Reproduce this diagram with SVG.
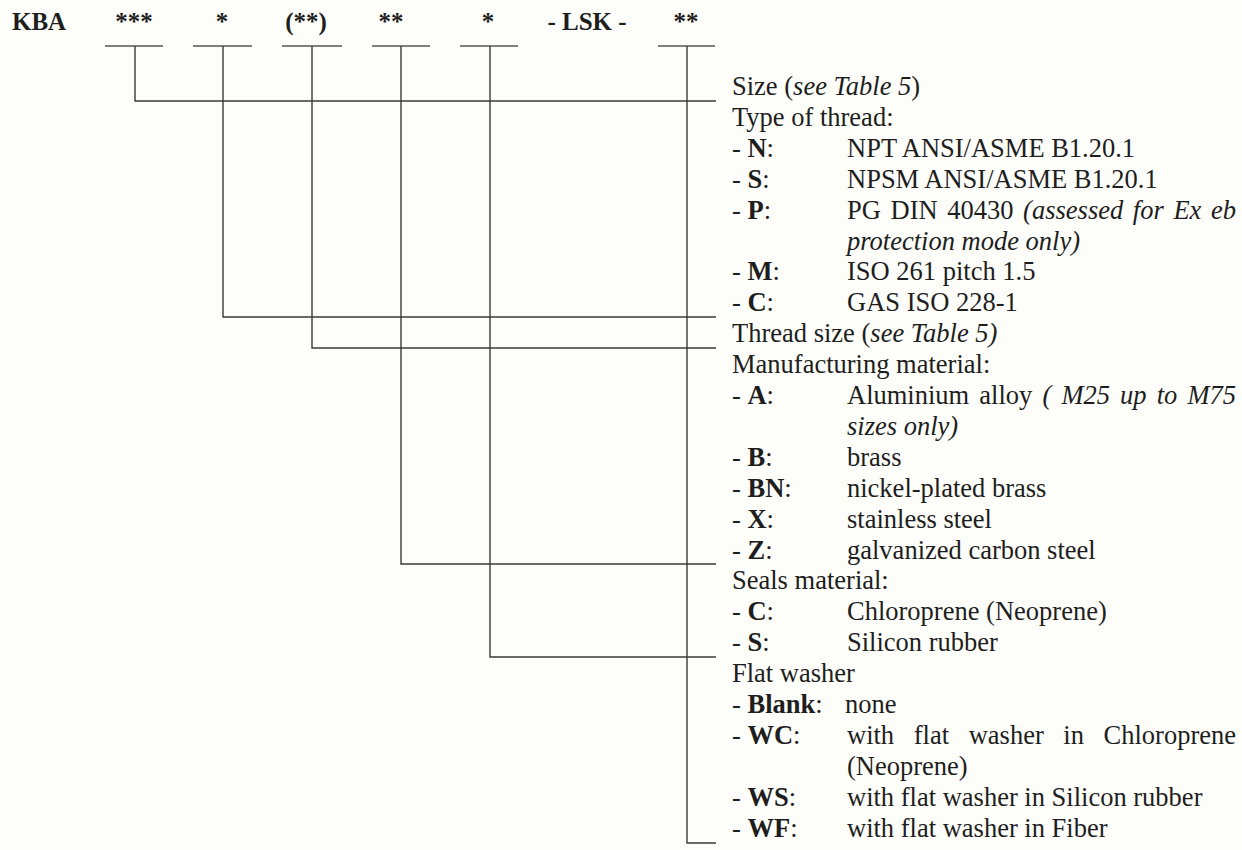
<svg xmlns="http://www.w3.org/2000/svg" width="1242" height="850" viewBox="0 0 1242 850">
<style>
text{font-family:"Liberation Serif","Times New Roman",serif;fill:#1e1e1e;font-size:26.5px}
.h{font-weight:bold;font-size:25px}
.b{font-weight:bold}
.i{font-style:italic}
.ln{stroke:#3a3a3a;stroke-width:1.4;fill:none}
.tick{stroke:#555;stroke-width:1.4}
</style>
<rect width="1242" height="850" fill="#fdfdf9"/>
<g id="header">
<g id="f-kba"><text class="h" x="12" y="30">KBA</text></g>
<g id="f-size"><text class="h" x="134" y="30" text-anchor="middle">***</text><line class="tick" x1="105" y1="46" x2="163" y2="46"/></g>
<g id="f-thread"><text class="h" x="222" y="30" text-anchor="middle">*</text><line class="tick" x1="193" y1="46" x2="252" y2="46"/></g>
<g id="f-threadsize"><text class="h" x="306" y="30" text-anchor="middle">(**)</text><line class="tick" x1="282" y1="46" x2="342" y2="46"/></g>
<g id="f-material"><text class="h" x="391" y="30" text-anchor="middle">**</text><line class="tick" x1="372" y1="46" x2="430" y2="46"/></g>
<g id="f-seals"><text class="h" x="488" y="30" text-anchor="middle">*</text><line class="tick" x1="460" y1="46" x2="518" y2="46"/></g>
<g id="f-lsk"><text class="h" x="587" y="30" text-anchor="middle">-  LSK  -</text></g>
<g id="f-washer"><text class="h" x="686" y="30" text-anchor="middle">**</text><line class="tick" x1="658" y1="46" x2="715" y2="46"/></g>
</g>
<g id="connectors">
<polyline class="ln" points="135,46 135,101 716,101"/>
<polyline class="ln" points="223,46 223,317 716,317"/>
<polyline class="ln" points="312,46 312,348 716,348"/>
<polyline class="ln" points="401,46 401,564 716,564"/>
<polyline class="ln" points="490,46 490,657 716,657"/>
<polyline class="ln" points="687,46 687,843 716,843"/>
</g>
<g id="n-size">
<text x="732" y="95">Size (<tspan class="i">see Table 5</tspan>)</text>
</g>
<g id="n-thread">
<text x="732" y="125.9">Type of thread:</text>
<text x="732" y="156.8">- <tspan class="b">N</tspan>:</text><text x="847" y="156.8">NPT ANSI/ASME B1.20.1</text>
<text x="732" y="187.7">- <tspan class="b">S</tspan>:</text><text x="847" y="187.7">NPSM ANSI/ASME B1.20.1</text>
<text x="732" y="218.6">- <tspan class="b">P</tspan>:</text><text x="847" y="218.6" word-spacing="3">PG DIN 40430 <tspan class="i">(assessed for Ex eb</tspan></text>
<text class="i" x="847" y="249.5">protection mode only)</text>
<text x="732" y="280.4">- <tspan class="b">M</tspan>:</text><text x="847" y="280.4">ISO 261 pitch 1.5</text>
<text x="732" y="311.3">- <tspan class="b">C</tspan>:</text><text x="847" y="311.3">GAS ISO 228-1</text>
</g>
<g id="n-threadsize">
<text x="732" y="342.2">Thread size (<tspan class="i">see Table 5)</tspan></text>
</g>
<g id="n-material">
<text x="732" y="373.1">Manufacturing material:</text>
<text x="732" y="404">- <tspan class="b">A</tspan>:</text><text x="847" y="404" word-spacing="3.5">Aluminium alloy <tspan class="i">( M25 up to M75</tspan></text>
<text class="i" x="847" y="434.9">sizes only)</text>
<text x="732" y="465.8">- <tspan class="b">B</tspan>:</text><text x="847" y="465.8">brass</text>
<text x="732" y="496.7">- <tspan class="b">BN</tspan>:</text><text x="847" y="496.7">nickel-plated brass</text>
<text x="732" y="527.6">- <tspan class="b">X</tspan>:</text><text x="847" y="527.6">stainless steel</text>
<text x="732" y="558.5">- <tspan class="b">Z</tspan>:</text><text x="847" y="558.5">galvanized carbon steel</text>
</g>
<g id="n-seals">
<text x="732" y="589.4">Seals material:</text>
<text x="732" y="620.3">- <tspan class="b">C</tspan>:</text><text x="847" y="620.3">Chloroprene (Neoprene)</text>
<text x="732" y="651.2">- <tspan class="b">S</tspan>:</text><text x="847" y="651.2">Silicon rubber</text>
</g>
<g id="n-washer">
<text x="732" y="682.1">Flat washer</text>
<text x="732" y="713">- <tspan class="b">Blank</tspan>:</text><text x="845" y="713">none</text>
<text x="732" y="743.9">- <tspan class="b">WC</tspan>:</text><text x="847" y="743.9" word-spacing="13">with flat washer in Chloroprene</text>
<text x="847" y="774.8">(Neoprene)</text>
<text x="732" y="805.7">- <tspan class="b">WS</tspan>:</text><text x="847" y="805.7">with flat washer in Silicon rubber</text>
<text x="732" y="836.6">- <tspan class="b">WF</tspan>:</text><text x="847" y="836.6">with flat washer in Fiber</text>
</g>
</svg>
